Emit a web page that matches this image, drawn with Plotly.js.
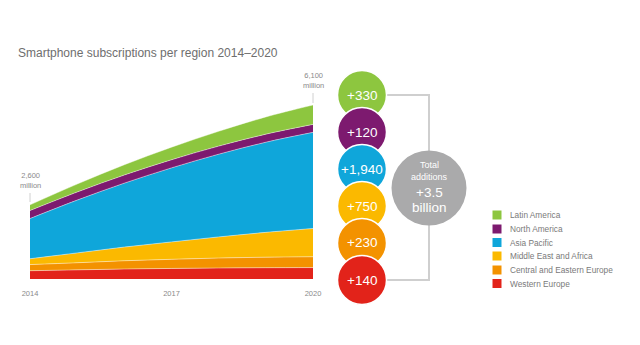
<!DOCTYPE html>
<html>
<head>
<meta charset="utf-8">
<script src="https://cdn.plot.ly/plotly-3.0.1.min.js"></script>
<style>html,body{margin:0;padding:0;background:#fff;}#chart{width:640px;height:345px;}</style>
</head>
<body>
<div id="chart"></div>
<script>
// ---- data ----
const years = [2014, 2015, 2016, 2017, 2018, 2019, 2020];
const regions = ["Western Europe", "Central and Eastern Europe", "Middle East and Africa", "Asia Pacific", "North America", "Latin America"];
const westernEurope = [290, 320, 350, 370, 385, 395, 400];
const centralEasternEurope = [215, 250, 290, 320, 350, 370, 380];
const middleEastAfrica = [205, 345, 480, 610, 740, 870, 990];
const asiaPacific = [1410, 1850, 2240, 2595, 2900, 3160, 3370];
const northAmerica = [280, 283, 285, 285, 283, 282, 280];
const latinAmerica = [200, 280, 360, 440, 520, 605, 680];
const seriesValues = [westernEurope, centralEasternEurope, middleEastAfrica, asiaPacific, northAmerica, latinAmerica];
const colors = ["#e2231a", "#f39200", "#fbb900", "#0fa6da", "#7d1a6f", "#8dc63f"];
const additions = ["+140", "+230", "+750", "+1,940", "+120", "+330"];
const xTicks = [2014, 2017, 2020];
const startLabel = "2,600<br>million";
const endLabel = "6,100<br>million";
const totalLines = ["Total", "additions", "+3.5", "billion"];
const title = "Smartphone subscriptions per region 2014–2020";

// ---- helpers: pixel -> paper ----
const W = 640, H = 345;
const px = x => x / W;
const py = y => (H - y) / H;

const traces = regions.map((r, i) => ({
  type: "scatter",
  mode: "lines",
  x: years,
  y: seriesValues[i],
  name: r,
  stackgroup: "one",
  line: {width: 0.8, color: "rgba(255,255,255,0.55)", shape: "spline", smoothing: 1},
  fillcolor: colors[i],
  showlegend: false,
  hoverinfo: "skip"
}));

const shapes = [];
const annotations = [];

// value markers lines
shapes.push({type: "line", xref: "paper", yref: "paper", x0: px(30), x1: px(30), y0: py(193), y1: py(202), line: {color: "#d0d0d0", width: 1}});
shapes.push({type: "line", xref: "paper", yref: "paper", x0: px(313), x1: px(313), y0: py(93), y1: py(103), line: {color: "#d0d0d0", width: 1}});
annotations.push({xref: "paper", yref: "paper", x: px(30), y: py(180), text: startLabel, showarrow: false, font: {size: 7.5, color: "#8a8a8a"}, align: "center", xanchor: "center", yanchor: "middle"});
annotations.push({xref: "paper", yref: "paper", x: px(313), y: py(80), text: endLabel, showarrow: false, font: {size: 7.5, color: "#8a8a8a"}, align: "center", xanchor: "center", yanchor: "middle"});

// bracket lines
const bc = "#cfcfcf";
shapes.push({type: "path", xref: "paper", yref: "paper", path: `M ${px(384)} ${py(95)} L ${px(429)} ${py(95)} L ${px(429)} ${py(152)}`, line: {color: bc, width: 2}});
shapes.push({type: "path", xref: "paper", yref: "paper", path: `M ${px(429)} ${py(224)} L ${px(429)} ${py(280)} L ${px(384)} ${py(280)}`, line: {color: bc, width: 2}});

// gray total circle
const gcx = 429, gcy = 188, gr = 37.5;
shapes.push({type: "circle", xref: "paper", yref: "paper", x0: px(gcx - gr), x1: px(gcx + gr), y0: py(gcy + gr), y1: py(gcy - gr), fillcolor: "#aaaaab", line: {width: 0}});
const totalY = [165, 177, 193, 208];
const totalSize = [9, 9, 13.5, 13.5];
totalLines.forEach((t, i) => annotations.push({xref: "paper", yref: "paper", x: px(gcx), y: py(totalY[i]), text: t, showarrow: false, font: {size: totalSize[i], color: "#ffffff"}, xanchor: "center", yanchor: "middle"}));

// addition circles: topmost (Latin America) drawn first, lower ones on top
const ccx = 362, cr = 24.5;
const centersY = [280, 243, 206, 169, 132, 95]; // per region order (WE ... LA)
for (let i = regions.length - 1; i >= 0; i--) {
  const cy = centersY[i];
  shapes.push({type: "circle", xref: "paper", yref: "paper", x0: px(ccx - cr), x1: px(ccx + cr), y0: py(cy + cr), y1: py(cy - cr), fillcolor: colors[i], line: {color: "#ffffff", width: 1.5}});
}
for (let i = 0; i < regions.length; i++) {
  annotations.push({xref: "paper", yref: "paper", x: px(ccx), y: py(centersY[i]), text: additions[i], showarrow: false, font: {size: 13.5, color: "#ffffff"}, xanchor: "center", yanchor: "middle"});
}

// custom legend (top: Latin America)
const legY = [215, 229, 242.5, 256, 270, 283.5];
for (let k = 0; k < regions.length; k++) {
  const i = regions.length - 1 - k;
  const y = legY[k];
  shapes.push({type: "rect", xref: "paper", yref: "paper", x0: px(492.5), x1: px(501.5), y0: py(y + 4.5), y1: py(y - 4.5), fillcolor: colors[i], line: {width: 0}});
  annotations.push({xref: "paper", yref: "paper", x: px(508), y: py(y), text: regions[i], showarrow: false, font: {size: 8.3, color: "#7a7a7a"}, xanchor: "left", yanchor: "middle"});
}

const layout = {
  width: W, height: H,
  margin: {l: 0, r: 0, t: 0, b: 0},
  paper_bgcolor: "#ffffff",
  plot_bgcolor: "#ffffff",
  font: {family: "Liberation Sans, Arial, sans-serif"},
  title: {text: title, x: px(18), xanchor: "left", y: py(53), yanchor: "middle", font: {size: 12, color: "#6e6e6e"}},
  xaxis: {domain: [px(30), px(313)], range: [2014, 2020], tickvals: xTicks, ticktext: xTicks.map(String), showgrid: false, zeroline: false, showline: false, ticks: "", tickfont: {size: 7.5, color: "#8a8a8a"}, ticklabelstandoff: 8, fixedrange: true},
  yaxis: {domain: [py(279), py(79.3)], range: [0, 7000], visible: false, showgrid: false, zeroline: false, fixedrange: true},
  shapes: shapes,
  annotations: annotations,
  showlegend: false
};

Plotly.newPlot("chart", traces, layout, {displayModeBar: false, staticPlot: true});
</script>
</body>
</html>
